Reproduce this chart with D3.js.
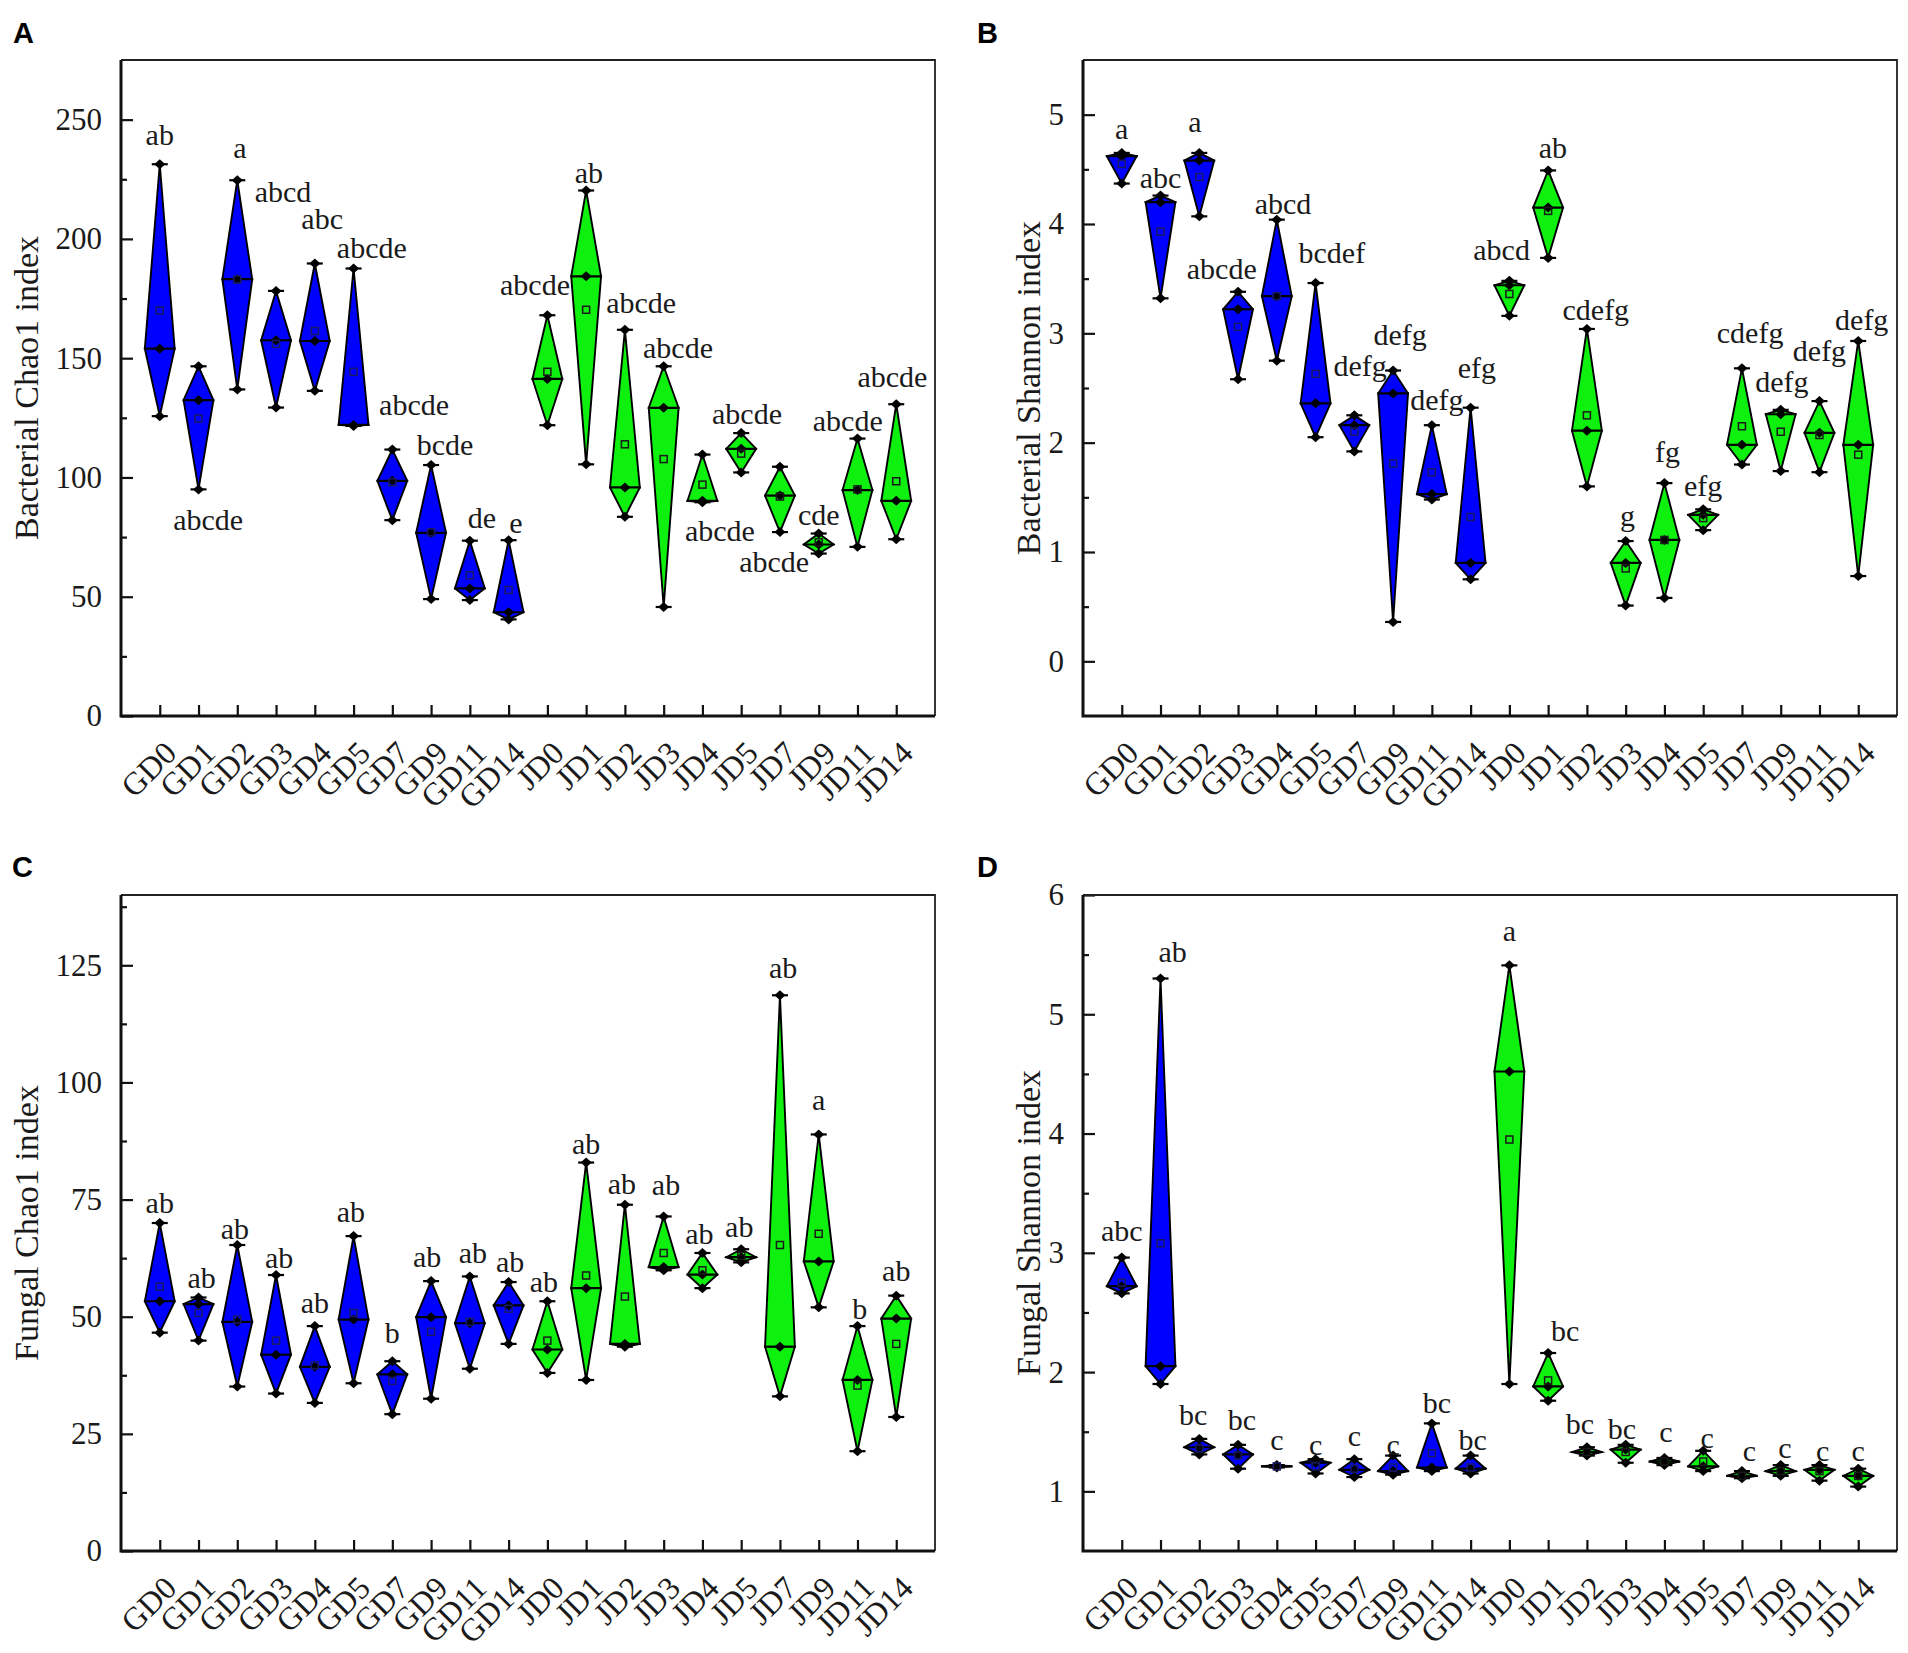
<!DOCTYPE html>
<html><head><meta charset="utf-8">
<script src="https://cdn.jsdelivr.net/npm/d3@7"></script>
<style>
body{margin:0;background:#fff}
svg text{font-family:"Liberation Serif","Times New Roman",serif;fill:#1a1a1a}
</style>
</head><body>
<svg id="fig" width="1908" height="1653"></svg>
<script>
// ---------------- DATA ----------------
const categories = ["GD0","GD1","GD2","GD3","GD4","GD5","GD7","GD9","GD11","GD14",
                    "JD0","JD1","JD2","JD3","JD4","JD5","JD7","JD9","JD11","JD14"];

// A: Bacterial Chao1
const bacChaoMax  = [231.3,146.6,224.6,178.2,189.7,187.6,111.7,105.2,73.5,73.7,168.0,220.3,161.9,146.6,109.6,118.6,104.5,76.5,116.3,130.7];
const bacChaoMed  = [154.0,132.4,183.1,157.5,157.2,122.0,98.6,76.8,53.5,43.5,141.3,184.3,95.8,129.2,90.2,112.0,92.4,71.9,94.7,90.2];
const bacChaoMean = [170.0,124.7,183.0,156.0,161.4,144.3,98.0,77.0,59.0,52.8,144.3,170.3,113.9,107.7,97.0,110.0,92.0,72.8,95.0,98.4];
const bacChaoMin  = [125.7,95.0,136.9,129.3,136.3,121.6,82.1,49.0,48.6,40.5,121.9,105.5,83.5,45.7,89.6,102.1,77.1,68.1,70.9,74.1];
const bacChaoLetters = ["ab","abcde","a","abcd","abc","abcde","abcde","bcde","de","e",
                        "abcde","ab","abcde","abcde","abcde","abcde","abcde","cde","abcde","abcde"];

// B: Bacterial Shannon
const bacShanMax  = [4.65,4.26,4.65,3.38,4.04,3.46,2.25,2.66,2.16,2.32,3.48,4.49,3.04,1.10,1.63,1.39,2.68,2.30,2.38,2.93];
const bacShanMed  = [4.62,4.20,4.58,3.22,3.34,2.36,2.16,2.45,1.53,0.90,3.44,4.15,2.11,0.90,1.11,1.34,1.98,2.26,2.09,1.98];
const bacShanMean = [4.55,3.93,4.43,3.06,3.34,2.63,2.10,1.81,1.73,1.32,3.36,4.12,2.25,0.85,1.11,1.31,2.15,2.10,2.07,1.89];
const bacShanMin  = [4.37,3.32,4.07,2.58,2.75,2.05,1.92,0.36,1.48,0.75,3.16,3.69,1.60,0.51,0.58,1.20,1.80,1.74,1.73,0.78];
const bacShanLetters = ["a","abc","a","abcde","abcd","bcdef","defg","defg","defg","efg",
                        "abcd","ab","cdefg","g","fg","efg","cdefg","defg","defg","defg"];

// C: Fungal Chao1
const funChaoMax  = [70.0,54.1,65.3,58.9,48.0,67.2,40.5,57.6,58.6,57.4,53.3,82.9,73.9,71.4,63.6,64.4,118.6,88.9,48.0,54.5];
const funChaoMed  = [53.3,52.7,48.9,41.9,39.3,49.4,37.7,49.9,48.6,52.4,43.0,56.1,44.2,60.6,59.0,62.7,43.6,61.8,36.5,49.6];
const funChaoMean = [56.4,50.8,49.4,44.9,39.6,50.8,36.3,46.8,48.9,51.7,44.9,58.8,54.3,63.6,59.9,63.0,65.3,67.7,35.3,44.2];
const funChaoMin  = [46.6,44.9,35.1,33.6,31.6,35.8,29.2,32.5,38.9,44.2,38.0,36.5,43.6,59.9,56.1,61.6,33.0,52.0,21.3,28.6];
const funChaoLetters = ["ab","ab","ab","ab","ab","ab","b","ab","ab","ab",
                        "ab","ab","ab","ab","ab","ab","ab","a","b","ab"];

// D: Fungal Shannon
const funShanMax  = [2.96,5.30,1.44,1.39,1.22,1.27,1.27,1.30,1.57,1.30,5.41,2.16,1.37,1.39,1.28,1.34,1.17,1.22,1.22,1.19];
const funShanMed  = [2.72,2.05,1.37,1.31,1.21,1.24,1.18,1.17,1.20,1.19,4.52,1.88,1.33,1.35,1.25,1.21,1.13,1.17,1.18,1.13];
const funShanMean = [2.75,3.08,1.36,1.30,1.21,1.21,1.19,1.20,1.32,1.20,3.95,1.93,1.33,1.33,1.25,1.25,1.13,1.17,1.17,1.13];
const funShanMin  = [2.66,1.90,1.31,1.19,1.20,1.15,1.12,1.14,1.17,1.15,1.90,1.76,1.30,1.24,1.22,1.17,1.11,1.13,1.09,1.04];
const funShanLetters = ["abc","ab","bc","bc","c","c","c","c","bc","bc",
                        "a","bc","bc","bc","c","c","c","c","c","c"];

// Letter annotation anchors: [offset in category units, y value]
const bacChaoLabelAt = [[0,243.6],[0.25,82.2],[0.07,238.1],[0.18,219.7],[0.19,208.3],[0.47,196.2],[0.56,130.4],[0.36,113.6],[0.31,83.0],[0.19,80.9],
                        [-0.32,180.7],[0.07,227.6],[0.42,173.1],[0.37,154.3],[0.45,77.6],[0.15,126.6],[-0.15,64.6],[0,84.3],[-0.25,123.7],[-0.1,142.1]];
const bacShanLabelAt = [[0,4.87],[0,4.42],[-0.11,4.93],[-0.42,3.59],[0.16,4.18],[0.42,3.73],[0.15,2.70],[0.18,2.98],[0.13,2.39],[0.16,2.68],
                        [-0.2,3.76],[0.12,4.69],[0.23,3.21],[0.05,1.33],[0.08,1.91],[0,1.60],[0.21,3.0],[0.03,2.55],[0,2.84],[0.09,3.12]];
const funChaoLabelAt = [[0,74.3],[0.08,58.3],[-0.06,68.7],[0.08,62.5],[0,52.9],[-0.07,72.3],[0,46.4],[-0.1,62.7],[0.08,63.5],[0.04,61.7],
                        [-0.09,57.4],[0,86.9],[-0.08,78.3],[0.06,78.0],[-0.08,67.7],[-0.05,69.1],[0.08,124.4],[0,96.3],[0.06,51.7],[0,59.8]];
const funShanLabelAt = [[0,3.18],[0.31,5.52],[-0.16,1.64],[0.1,1.60],[0,1.43],[0,1.39],[0,1.46],[0,1.39],[0.13,1.74],[0.05,1.43],
                        [0,5.70],[0.44,2.34],[-0.18,1.56],[-0.1,1.52],[0.04,1.50],[0.1,1.45],[0.19,1.34],[0.11,1.36],[0.08,1.34],[0,1.34]];

// Axis ticks
const bacChaoTicks = [0,50,100,150,200,250], bacChaoMinor = [25,75,125,175,225];
const bacShanTicks = [0,1,2,3,4,5],          bacShanMinor = [0.5,1.5,2.5,3.5,4.5];
const funChaoTicks = [0,25,50,75,100,125],   funChaoMinor = [12.5,37.5,62.5,87.5,112.5,137.5];
const funShanTicks = [1,2,3,4,5,6],          funShanMinor = [1.5,2.5,3.5,4.5,5.5];

// ---------------- LAYOUT ----------------
const panels = [
  {tag:"A", title:"Bacterial Chao1 index", box:[121,935,60,716], dom:[0,275], ticks:bacChaoTicks, minor:bacChaoMinor,
   max:bacChaoMax, med:bacChaoMed, mean:bacChaoMean, min:bacChaoMin, letters:bacChaoLetters, lab:bacChaoLabelAt, tagPos:[13,43], titleX:38},
  {tag:"B", title:"Bacterial Shannon index", box:[1083,1897,60,716], dom:[-0.5,5.5], ticks:bacShanTicks, minor:bacShanMinor,
   max:bacShanMax, med:bacShanMed, mean:bacShanMean, min:bacShanMin, letters:bacShanLetters, lab:bacShanLabelAt, tagPos:[977,43], titleX:1040},
  {tag:"C", title:"Fungal Chao1 index", box:[121,935,895,1551], dom:[0,140], ticks:funChaoTicks, minor:funChaoMinor,
   max:funChaoMax, med:funChaoMed, mean:funChaoMean, min:funChaoMin, letters:funChaoLetters, lab:funChaoLabelAt, tagPos:[12,877], titleX:38},
  {tag:"D", title:"Fungal Shannon index", box:[1083,1897,895,1551], dom:[0.5,6], ticks:funShanTicks, minor:funShanMinor,
   max:funShanMax, med:funShanMed, mean:funShanMean, min:funShanMin, letters:funShanLetters, lab:funShanLabelAt, tagPos:[977,877], titleX:1040}
];

const svg = d3.select("#fig");
const BLUE = "#0000ff", GREEN = "#0ef00e";
const diamondPath = "M0,-5L5.5,0L0,5L-5.5,0Z";

panels.forEach(p => {
  const [x0,x1,y0,y1] = p.box;
  const x = d3.scaleLinear().domain([0,21]).range([x0,x1]);
  const y = d3.scaleLinear().domain(p.dom).range([y1,y0]);
  const step = x(1) - x(0);
  const hw = step * 0.385;
  const g = svg.append("g");

  // panel tag
  svg.append("text").attr("x",p.tagPos[0]).attr("y",p.tagPos[1])
    .style("font-family","'Liberation Sans',Arial,sans-serif").style("font-weight","bold")
    .style("font-size","29px").style("fill","#000").text(p.tag);

  // y axis
  const ya = g.append("g").attr("transform",`translate(${x0},0)`)
    .call(d3.axisLeft(y).tickValues(p.ticks).tickSize(-12).tickPadding(19).tickFormat(d3.format("d")));
  ya.select(".domain").remove();
  ya.selectAll("line").attr("stroke","#111").attr("stroke-width",2.2);
  ya.selectAll("text").style("font-size","31px").style("font-family","'Liberation Serif',serif").attr("fill","#222");
  const ym = g.append("g").attr("transform",`translate(${x0},0)`)
    .call(d3.axisLeft(y).tickValues(p.minor).tickSize(-6).tickFormat(""));
  ym.select(".domain").remove();
  ym.selectAll("line").attr("stroke","#111").attr("stroke-width",2.2);

  // x axis
  const xa = g.append("g").attr("transform",`translate(0,${y1})`)
    .call(d3.axisBottom(x).tickValues(d3.range(1,21)).tickSize(-11).tickFormat(i => categories[i-1]));
  xa.select(".domain").remove();
  xa.selectAll("line").attr("stroke","#111").attr("stroke-width",2.2);
  xa.selectAll("text").attr("x",0).attr("y",0).attr("dy",0)
    .attr("text-anchor","end").attr("transform","translate(18,39) rotate(-45)")
    .style("font-size","32px").style("font-family","'Liberation Serif',serif").attr("fill","#222");

  // frame
  g.append("path").attr("d",`M${x0},${y0}H${x1}V${y1}`).attr("fill","none").attr("stroke","#222").attr("stroke-width",1.8);
  g.append("path").attr("d",`M${x0},${y0}V${y1}H${x1}`).attr("fill","none").attr("stroke","#111").attr("stroke-width",3);

  // axis title
  g.append("text").attr("transform",`translate(${p.titleX},${(y0+y1)/2}) rotate(-90)`)
    .attr("text-anchor","middle").style("font-size","34px").attr("fill","#222").text(p.title);

  const data = categories.map((c,i)=>({c, i, max:p.max[i], med:p.med[i], mean:p.mean[i], min:p.min[i],
      col: c.startsWith("GD") ? BLUE : GREEN}));

  const items = g.append("g").selectAll("g").data(data).join("g");
  // kite shape
  items.append("path")
    .attr("d", d => { const cx = x(d.i+1);
      return `M${cx},${y(d.max)}L${cx+hw},${y(d.med)}L${cx},${y(d.min)}L${cx-hw},${y(d.med)}Z`; })
    .attr("fill", d=>d.col).attr("stroke","#000").attr("stroke-width",1.9).attr("stroke-linejoin","miter");
  // median line
  items.append("line")
    .attr("x1", d=>x(d.i+1)-hw-1).attr("x2", d=>x(d.i+1)+hw+1)
    .attr("y1", d=>y(d.med)).attr("y2", d=>y(d.med))
    .attr("stroke","#000").attr("stroke-width",2.2);
  // caps at max / min
  ["max","min"].forEach(k => {
    items.append("line")
      .attr("x1", d=>x(d.i+1)-8).attr("x2", d=>x(d.i+1)+8)
      .attr("y1", d=>y(d[k])).attr("y2", d=>y(d[k]))
      .attr("stroke","#000").attr("stroke-width",2.2);
  });
  // diamonds at data points
  ["max","min","med"].forEach(k => {
    items.append("path").attr("d",diamondPath)
      .attr("transform", d=>`translate(${x(d.i+1)},${y(d[k])})`)
      .attr("fill","#000");
  });
  // mean square
  items.append("rect")
    .attr("x", d=>x(d.i+1)-3.5).attr("y", d=>y(d.mean)-3.5).attr("width",7).attr("height",7)
    .attr("fill","none").attr("stroke", d=> d.col===BLUE ? "#1a1a66" : "#1a1a1a").attr("stroke-width",1.5);

  // significance letters
  g.append("g").selectAll("text").data(data).join("text")
    .attr("x", d=>x(d.i+1+p.lab[d.i][0])).attr("y", d=>y(p.lab[d.i][1]))
    .attr("dy","0.33em").attr("text-anchor","middle")
    .style("font-size","30px").attr("fill","#1a1a1a")
    .text(d=>p.letters[d.i]);
});
</script>
</body></html>
